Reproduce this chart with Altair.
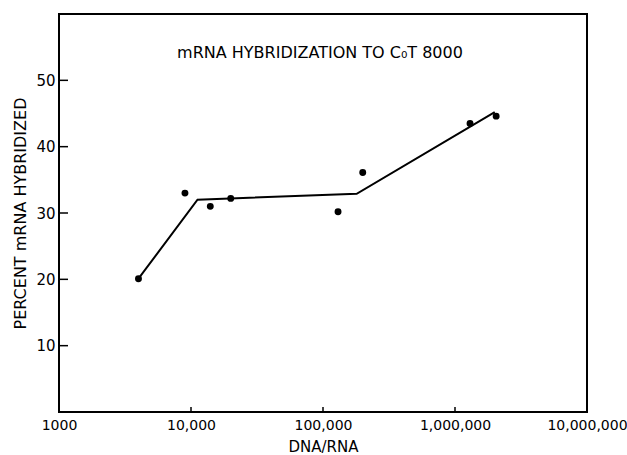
import altair as alt
import pandas as pd

# Measured points
dna_rna = [4000, 9000, 14000, 20000, 130000, 200000, 1300000, 2050000]
percent = [20.1, 33.0, 31.0, 32.2, 30.2, 36.1, 43.5, 44.6]

# Hand-drawn fitted line (breakpoints)
fit_x = [4000, 11200, 180000, 2000000]
fit_y = [20.1, 32.0, 32.9, 45.2]

x_tick_values = [1000, 10000, 100000, 1000000, 10000000]
x_inner_ticks = [10000, 100000, 1000000]
y_tick_values = [10, 20, 30, 40, 50]

title_text = "mRNA HYBRIDIZATION TO C\u2080T 8000"

FONT = "DejaVu Sans"
W, H = 528, 398

pts = pd.DataFrame({"x": dna_rna, "y": percent})
fit = pd.DataFrame({"x": fit_x, "y": fit_y})
xt = pd.DataFrame({"x": x_inner_ticks})
yt = pd.DataFrame({"y": y_tick_values})

xscale = alt.Scale(type="log", domain=[1000, 10000000], nice=False)
yscale = alt.Scale(domain=[0, 60], nice=False, zero=False)

x_axis = alt.Axis(
    values=x_tick_values,
    labelExpr="datum.value == 1000 ? '1000' : format(datum.value, ',')",
    labelFont=FONT, labelFontSize=14, labelColor="black",
    labelPadding=6, labelFlush=False, labelOverlap=False, labelBound=False,
    ticks=False, tickSize=0, domain=False, grid=False,
    title="DNA/RNA", titleFont=FONT, titleFontSize=15, titleFontWeight="normal",
    titleColor="black", titleY=34, titleBaseline="middle",
)
y_axis = alt.Axis(
    values=y_tick_values,
    labelFont=FONT, labelFontSize=15, labelColor="black",
    labelPadding=4, ticks=False, tickSize=0, domain=False, grid=False,
    title="PERCENT mRNA HYBRIDIZED", titleFont=FONT, titleFontSize=16,
    titleFontWeight="normal", titleColor="black", titleAngle=-90,
    titleX=-39, titleY=H / 2, titleAlign="center", titleBaseline="middle",
)

X = alt.X("x:Q", scale=xscale, axis=x_axis)
Y = alt.Y("y:Q", scale=yscale, axis=y_axis)

points = alt.Chart(pts).mark_circle(size=48, color="black", opacity=1).encode(x=X, y=Y)

line = alt.Chart(fit).mark_line(color="black", strokeWidth=2).encode(x=X, y=Y)

xticks = alt.Chart(xt).mark_rule(color="black", strokeWidth=1.5).encode(
    x=X,
    y=alt.value(H),
    y2=alt.value(H - 5),
)

yticks = alt.Chart(yt).mark_rule(color="black", strokeWidth=1.5).encode(
    y=Y,
    x=alt.value(0),
    x2=alt.value(9),
)

title = alt.Chart(pd.DataFrame({"t": [title_text]})).mark_text(
    font=FONT, fontSize=16, color="black", align="center", baseline="middle"
).encode(text="t:N", x=alt.value(W / 2 - 3), y=alt.value(39))

chart = alt.layer(points, line, xticks, yticks, title).properties(
    width=W, height=H,
    autosize=alt.AutoSizeParams(type="none"),
    padding={"left": 59, "top": 14, "right": 40, "bottom": 43},
    background="white",
).configure_view(stroke="black", strokeWidth=2)

chart.save("out.html", embed_options={"renderer": "svg", "actions": False})
